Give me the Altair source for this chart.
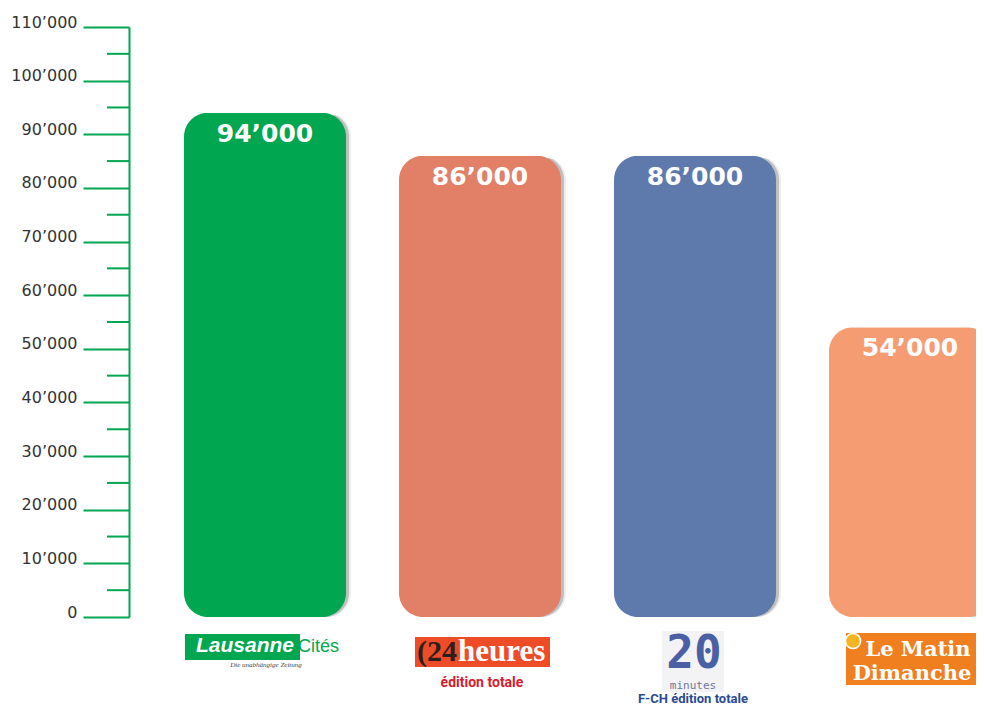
import altair as alt
import pandas as pd

# ---- data ----
papers = ["Lausanne Cités", "24 heures", "20 minutes", "Le Matin Dimanche"]
readers = [94000, 86000, 86000, 54000]
value_labels = ["94’000", "86’000", "86’000", "54’000"]
bar_colors = ["#00a650", "#e17f67", "#5e7aad", "#f59c72"]
tick_values = list(range(0, 110001, 10000))
minor_tick_values = list(range(5000, 110000, 10000))
editions = ["", "édition totale", "F-CH édition totale", ""]

GREEN = "#00a650"

df = pd.DataFrame({"paper": papers, "readers": readers, "label": value_labels,
                   "color": bar_colors, "edition": editions})
minor_df = pd.DataFrame({"readers": minor_tick_values})

x_enc = alt.X("paper:N", sort=papers, axis=None,
              scale=alt.Scale(range=[0, 917], paddingInner=0.2465, paddingOuter=0.2558))
y_axis = alt.Axis(values=tick_values, title=None, grid=False,
                  labelExpr="replace(format(datum.value, ',d'), ',', '’')",
                  domainColor=GREEN, domainWidth=2, tickColor=GREEN, tickWidth=2,
                  tickSize=46, labelFont="DejaVu Sans", labelFontSize=16,
                  labelColor="#333333", labelPadding=6, labelBaseline="alphabetic",
                  labelFlush=False, labelOverlap=False)
y_enc = alt.Y("readers:Q", scale=alt.Scale(domain=[0, 110000], nice=False, zero=True),
              axis=y_axis)

base = alt.Chart(df)

shadow2 = base.mark_bar(cornerRadius=24, color="#9a9a9a", opacity=0.18,
                        xOffset=5, yOffset=3).encode(x=x_enc, y=y_enc)
shadow1 = base.mark_bar(cornerRadius=24, color="#6a6a6a", opacity=0.35,
                        xOffset=3, yOffset=2).encode(x=x_enc, y=y_enc)
bars = base.mark_bar(cornerRadius=24).encode(
    x=x_enc, y=y_enc, color=alt.Color("color:N", scale=None))
labels = base.mark_text(font="DejaVu Sans", fontWeight="bold", fontSize=25,
                        color="white", baseline="middle", dy=21).encode(
    x=x_enc, y=y_enc, text="label:N")
minor = alt.Chart(minor_df).mark_rule(color=GREEN, strokeWidth=2).encode(
    y=y_enc, x=alt.value(-22), x2=alt.value(0))


def one(paper):
    return base.transform_filter(alt.datum.paper == paper)


# Lausanne Cités logo
l_rect = one(papers[0]).mark_bar(width=115, xOffset=-22.5, color=GREEN).encode(
    x=x_enc, y=alt.value(607), y2=alt.value(633))
l_txt1 = one(papers[0]).mark_text(text="Lausanne", font="Liberation Sans", fontWeight="bold",
                                  fontStyle="italic", fontSize=21, color="white",
                                  align="left", baseline="alphabetic", dx=-69).encode(
    x=x_enc, y=alt.value(625))
l_txt2 = one(papers[0]).mark_text(text="Cités", font="Liberation Sans", fontSize=18,
                                  color=GREEN, align="left", baseline="alphabetic",
                                  dx=33).encode(x=x_enc, y=alt.value(625))
l_txt3 = one(papers[0]).mark_text(text="Die unabhängige Zeitung", font="Liberation Serif",
                                  fontStyle="italic", fontSize=7, color="#444444",
                                  align="center", baseline="alphabetic", dx=1).encode(
    x=x_enc, y=alt.value(640))

# 24 heures logo
h_rect = one(papers[1]).mark_bar(width=135, xOffset=2.5, color="#ee4b27").encode(
    x=x_enc, y=alt.value(610), y2=alt.value(640))
h_txt1 = one(papers[1]).mark_text(text="(24", font="Liberation Serif", fontWeight="bold",
                                  fontSize=30, color="#2b201c", align="right",
                                  baseline="alphabetic", dx=-23).encode(
    x=x_enc, y=alt.value(634))
h_txt2 = one(papers[1]).mark_text(text="heures", font="Liberation Serif", fontWeight="bold",
                                  fontSize=31, color="white", align="left",
                                  baseline="alphabetic", dx=-22).encode(
    x=x_enc, y=alt.value(634))
h_ed = one(papers[1]).mark_text(font="Roboto", fontWeight="bold", fontSize=14,
                                color="#d4202f", align="center", baseline="alphabetic",
                                dx=2).encode(x=x_enc, y=alt.value(660), text="edition:N")

# 20 minutes logo
m_bg = one(papers[2]).mark_bar(width=62, xOffset=-2, color="#f3f3f5").encode(
    x=x_enc, y=alt.value(604), y2=alt.value(665))
m_txt1 = one(papers[2]).mark_text(text="20", font="DejaVu Sans Mono", fontWeight="bold",
                                  fontSize=46, color="#4b5fa5", align="center",
                                  baseline="alphabetic", dx=-1).encode(
    x=x_enc, y=alt.value(641))
m_txt2 = one(papers[2]).mark_text(text="minutes", font="DejaVu Sans Mono", fontSize=11,
                                  color="#6f7898", align="center", baseline="alphabetic",
                                  dx=-2).encode(x=x_enc, y=alt.value(662))
m_ed = one(papers[2]).mark_text(font="Roboto", fontWeight="bold", fontSize=13,
                                color="#2a4b93", align="center", baseline="alphabetic",
                                dx=-2).encode(x=x_enc, y=alt.value(676), text="edition:N")

# Le Matin Dimanche logo
d_rect = one(papers[3]).mark_bar(width=132, xOffset=2, color="#f07f1f").encode(
    x=x_enc, y=alt.value(606), y2=alt.value(658))
d_dot = one(papers[3]).mark_point(filled=True, size=230, color="#f6b520", opacity=1,
                                  stroke="white", strokeWidth=1.5, xOffset=-57).encode(
    x=x_enc, y=alt.value(614))
d_txt1 = one(papers[3]).mark_text(text="Le Matin", font="DejaVu Serif", fontWeight="bold",
                                  fontSize=21, color="white", align="center",
                                  baseline="alphabetic", dx=8).encode(
    x=x_enc, y=alt.value(629))
d_txt2 = one(papers[3]).mark_text(text="Dimanche", font="DejaVu Serif", fontWeight="bold",
                                  fontSize=21, color="white", align="center",
                                  baseline="alphabetic", dx=2).encode(
    x=x_enc, y=alt.value(653))

chart = alt.layer(
    shadow2, shadow1, bars, labels, minor,
    l_rect, l_txt1, l_txt2, l_txt3,
    h_rect, h_txt1, h_txt2, h_ed,
    m_bg, m_txt1, m_txt2, m_ed,
    d_rect, d_dot, d_txt1, d_txt2,
).properties(
    width=847, height=590, autosize="none", background="white",
    padding={"left": 121, "top": 19, "right": 0, "bottom": 90},
).configure_view(stroke="transparent", strokeWidth=0)

chart.save("out.html", embed_options={"renderer": "svg", "actions": False})
